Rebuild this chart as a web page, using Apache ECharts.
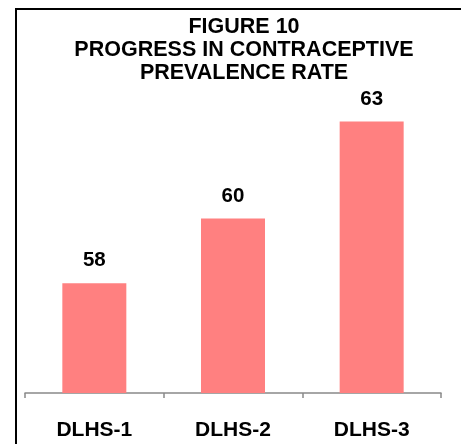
<!DOCTYPE html>
<html>
<head>
<meta charset="utf-8">
<script src="https://cdn.jsdelivr.net/npm/echarts@6/dist/echarts.min.js"></script>
<style>
  html, body { margin: 0; padding: 0; background: #fff; }
  #chart { width: 461px; height: 444px; }
</style>
</head>
<body>
<div id="chart"></div>
<script>
// Contraceptive prevalence rate by survey round
const rounds = ['DLHS-1', 'DLHS-2', 'DLHS-3'];
const prevalence = [58, 60, 63];
const titleLines = ['FIGURE 10', 'PROGRESS IN CONTRACEPTIVE', 'PREVALENCE RATE'];

const FONT = '"Liberation Sans", Arial, sans-serif';

const chart = echarts.init(document.getElementById('chart'), null, { renderer: 'canvas' });
chart.setOption({
  backgroundColor: '#ffffff',
  animation: false,
  title: {
    text: titleLines.join('\n'),
    left: 244,
    textAlign: 'center',
    top: 15,
    padding: 0,
    textStyle: {
      fontFamily: FONT,
      fontSize: 21.5,
      fontWeight: 'bold',
      lineHeight: 23.3,
      color: '#000'
    }
  },
  graphic: [{
    type: 'rect',
    shape: { x: 16, y: 9, width: 460, height: 460 },
    style: { fill: 'none', stroke: '#000', lineWidth: 2 },
    silent: true,
    z: 100
  }],
  grid: { left: 25, right: 20, top: 57, bottom: 51 },
  xAxis: {
    type: 'category',
    data: rounds,
    boundaryGap: true,
    axisLine: { lineStyle: { color: '#898989', width: 1.5 } },
    axisTick: { show: true, length: 5, alignWithLabel: false, lineStyle: { color: '#898989', width: 1.5 } },
    axisLabel: {
      margin: 27,
      fontFamily: FONT,
      fontSize: 21,
      fontWeight: 'bold',
      color: '#000'
    }
  },
  yAxis: {
    type: 'value',
    min: 54.6,
    max: 65,
    show: false,
    splitLine: { show: false }
  },
  series: [{
    type: 'bar',
    data: prevalence,
    barWidth: 64,
    itemStyle: { color: '#FF8080' },
    label: {
      show: true,
      position: 'top',
      distance: 12,
      fontFamily: FONT,
      fontSize: 20.5,
      fontWeight: 'bold',
      color: '#000'
    }
  }]
});
</script>
</body>
</html>
